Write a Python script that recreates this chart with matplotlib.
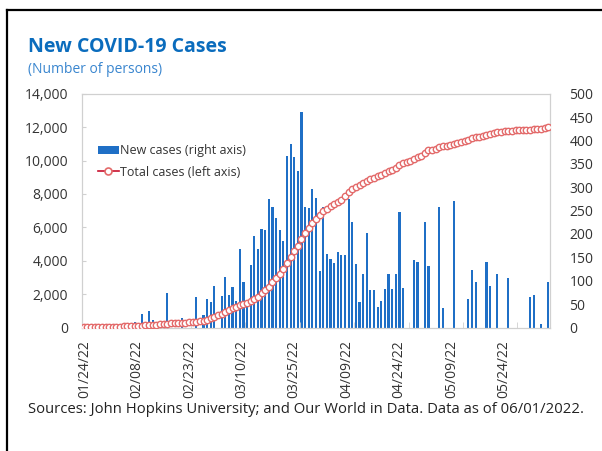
"""New COVID-19 cases chart: daily new cases (bars, right axis) and total cases (line, left axis)."""

import matplotlib

matplotlib.use("Agg")
import matplotlib.pyplot as plt
from matplotlib.lines import Line2D
from matplotlib.patches import Patch
from matplotlib.ticker import FuncFormatter, MultipleLocator
import numpy as np

# one value per day, 01/24/22 .. 06/01/22
new_cases = [
    0, 0, 0, 0, 0, 0, 0, 0, 0, 0,
    0, 0, 0, 0, 12, 0, 29, 0, 36, 17,
    0, 0, 0, 74, 0, 0, 0, 20, 0, 0,
    0, 66, 0, 27, 60, 55, 88, 0, 68, 108,
    70, 86, 56, 168, 97, 55, 134, 195, 167, 210,
    208, 274, 258, 235, 208, 184, 366, 392, 365, 335,
    460, 258, 255, 297, 278, 121, 258, 158, 146, 137,
    161, 155, 155, 274, 225, 136, 55, 114, 203, 80,
    80, 43, 57, 82, 114, 82, 114, 247, 84, 0,
    0, 144, 141, 0, 226, 131, 0, 0, 257, 41,
    0, 0, 271, 0, 0, 0, 61, 124, 98, 0,
    0, 141, 89, 0, 114, 0, 0, 105, 0, 0,
    0, 0, 0, 65, 69, 0, 7, 0, 97,
]

total_cases = [
    30, 30, 32, 35, 38, 40, 42, 45, 48, 52,
    56, 62, 68, 75, 88, 95, 115, 125, 150, 165,
    175, 185, 200, 240, 250, 260, 270, 290, 300, 310,
    325, 350, 370, 420, 480, 560, 650, 720, 820, 950,
    1050, 1150, 1230, 1320, 1400, 1480, 1580, 1700, 1850, 2050,
    2250, 2450, 2700, 2950, 3200, 3500, 3850, 4250, 4600, 4900,
    5300, 5650, 5950, 6250, 6500, 6750, 6950, 7100, 7250, 7380,
    7500, 7650, 7850, 8100, 8280, 8400, 8550, 8650, 8800, 8900,
    8980, 9060, 9150, 9250, 9350, 9450, 9550, 9750, 9850, 9900,
    9950, 10080, 10200, 10300, 10450, 10600, 10650, 10700, 10820, 10850,
    10870, 10900, 11000, 11050, 11100, 11150, 11250, 11320, 11400, 11430,
    11450, 11550, 11600, 11630, 11700, 11720, 11740, 11780, 11790, 11800,
    11800, 11810, 11820, 11850, 11880, 11900, 11910, 11920, 12000,
]

date_labels = ["01/24/22", "02/08/22", "02/23/22", "03/10/22", "03/25/22",
               "04/09/22", "04/24/22", "05/09/22", "05/24/22"]
label_step = 15  # days between date labels

BAR_BLUE = "#1f6fc6"
LINE_RED = "#c8102e"
MARKER_RED = "#e36a6a"
TITLE_BLUE = "#0a6cbd"
TEXT = "#333333"
GRID_GREY = "#d0d0d0"

plt.rcParams["font.family"] = ["Open Sans", "DejaVu Sans"]

days = np.arange(len(new_cases))

fig = plt.figure(figsize=(6.02, 4.51), dpi=100)
ax = fig.add_axes([0.1362, 0.2738, 0.7774, 0.5184])
ax_r = ax.twinx()

# bars on the right axis, line on the left axis drawn above them
ax_r.bar(days, new_cases, width=0.6, color=BAR_BLUE, zorder=2)
ax.set_zorder(ax_r.get_zorder() + 1)
ax.patch.set_visible(False)
ax.plot(days, total_cases, color=LINE_RED, lw=0.8, marker="o", ms=4.6,
        mfc="white", mec=MARKER_RED, mew=1.0, zorder=3)

ax.set_xlim(-0.5, len(days) - 0.5)
ax.set_ylim(0, 14000)
ax_r.set_ylim(0, 500)
ax.yaxis.set_major_locator(MultipleLocator(2000))
ax_r.yaxis.set_major_locator(MultipleLocator(50))
ax.yaxis.set_major_formatter(FuncFormatter(lambda v, _: f"{v:,.0f}"))

# small tick marks sit on the category boundaries; the rotated labels
# in the source drift slightly left of them, so they get their own spots
ax.set_xticks([i * label_step - 0.5 for i in range(len(date_labels))], minor=True)
ax.set_xticks([i * (label_step - 0.55) + 0.2 for i in range(len(date_labels))])
ax.set_xticklabels(date_labels, rotation=90)

for a in (ax, ax_r):
    for sp in a.spines.values():
        sp.set_color(GRID_GREY)
        sp.set_linewidth(0.8)
ax.tick_params(axis="y", direction="in", length=3, color=GRID_GREY,
               labelsize=10, labelcolor=TEXT, pad=10)
ax.tick_params(axis="x", which="major", length=0,
               labelsize=10, labelcolor=TEXT, pad=9)
ax.tick_params(axis="x", which="minor", direction="in", length=4, color=GRID_GREY)
ax_r.tick_params(axis="y", length=0, labelsize=10, labelcolor=TEXT, pad=14)

handles = [
    Patch(facecolor=BAR_BLUE, edgecolor="none"),
    Line2D([], [], color=LINE_RED, lw=1.2, marker="o", ms=5, mfc="white",
           mec=MARKER_RED, mew=1.2),
]
ax.legend(handles, ["New cases (right axis)", "Total cases (left axis)"],
          loc="upper left", bbox_to_anchor=(0.02, 0.81), frameon=False,
          fontsize=9, handlelength=1.7, handleheight=0.6, handletextpad=0.1,
          labelspacing=0.65, borderpad=0, labelcolor=TEXT)

fig.text(0.0465, 0.895, "New COVID-19 Cases", fontsize=14, fontweight="bold",
         color=TITLE_BLUE, va="center", ha="left")
fig.text(0.0465, 0.845, "(Number of persons)", fontsize=10, color="#3a86cf",
         va="center", ha="left")
fig.text(0.0465, 0.091, "Sources: John Hopkins University; and Our World in Data. "
         "Data as of 06/01/2022.", fontsize=10.7, color="#222222", va="center", ha="left")

# frame from the screenshot
fig.add_artist(Line2D([0.0116, 0.0116], [0.0, 0.978], transform=fig.transFigure,
                      color="black", lw=1.6))
fig.add_artist(Line2D([0.0116, 1.0], [0.978, 0.978], transform=fig.transFigure,
                      color="black", lw=1.6))

fig.savefig("out.png", dpi=100, facecolor="white")
